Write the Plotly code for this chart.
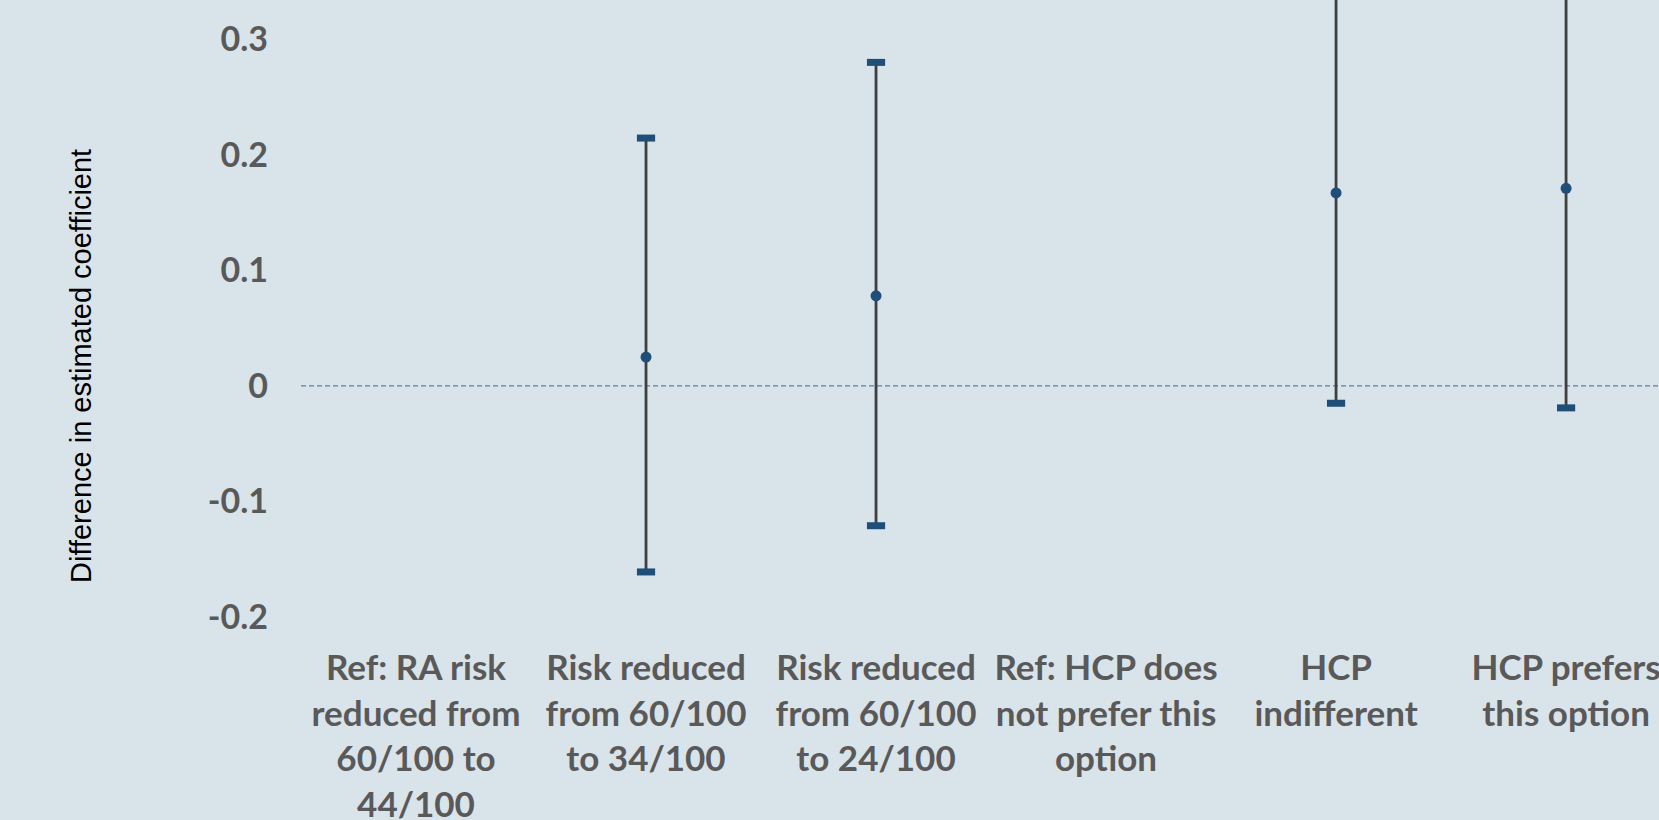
import plotly.graph_objects as go

# ---- data ----
categories = [
    "Ref: RA risk<br>reduced from<br>60/100 to<br>44/100",
    "Risk reduced<br>from 60/100<br>to 34/100",
    "Risk reduced<br>from 60/100<br>to 24/100",
    "Ref: HCP does<br>not prefer this<br>option",
    "HCP<br>indifferent",
    "HCP prefers<br>this option",
]
estimate = [None, 0.025, 0.078, None, 0.167, 0.171]
lower = [None, -0.161, -0.121, None, -0.015, -0.019]
upper = [None, 0.2145, 0.280, None, 0.349, 0.361]
y_ticks = [-0.2, -0.1, 0, 0.1, 0.2, 0.3]
y_ticktext = ["-0.2", "-0.1", "0", "0.1", "0.2", "0.3"]
y_title = "Difference in estimated coefficient"

# ---- styles ----
BG = "#D9E3EA"
BLUE = "#1F4E79"
LINE = "#3F3F3F"
TICK = "#595959"

xs = list(range(len(categories)))
err_plus = [None if e is None else u - e for e, u in zip(estimate, upper)]
err_minus = [None if e is None else e - l for e, l in zip(estimate, lower)]

fig = go.Figure()

# vertical confidence-interval lines
fig.add_trace(go.Scatter(
    x=xs, y=estimate, mode="markers",
    marker=dict(size=1, color="rgba(0,0,0,0)"),
    error_y=dict(type="data", symmetric=False, array=err_plus, arrayminus=err_minus,
                 color=LINE, thickness=2.8, width=0),
    hoverinfo="skip", showlegend=False,
))
# caps
for vals in (lower, upper):
    fig.add_trace(go.Scatter(
        x=xs, y=vals, mode="markers",
        marker=dict(symbol="line-ew", size=13, color=BLUE, line=dict(color=BLUE, width=7)),
        showlegend=False,
    ))
# point estimates
fig.add_trace(go.Scatter(
    x=xs, y=estimate, mode="markers",
    marker=dict(symbol="circle", size=11, color=BLUE),
    showlegend=False,
))

# zero reference line
fig.add_hline(y=0, line=dict(color="#5B80A5", width=1.4, dash="5px,3px"), layer="below")

fig.update_layout(
    width=1659, height=820,
    margin=dict(l=301, r=0, t=0, b=203, autoexpand=False),
    paper_bgcolor=BG, plot_bgcolor=BG,
    showlegend=False,
    xaxis=dict(
        range=[-0.5, 5.404], tickmode="array", tickvals=xs, ticktext=categories,
        tickangle=0, showgrid=False, zeroline=False, showline=False, ticks="",
        tickfont=dict(family="Lato", size=35, color=TICK, weight="bold"),
        ticklabelstandoff=27, ticklabeloverflow="allow", automargin=False,
    ),
    yaxis=dict(
        range=[-0.2, 0.334], tickmode="array", tickvals=y_ticks, ticktext=y_ticktext,
        showgrid=False, zeroline=False, showline=False, ticks="",
        tickfont=dict(family="Lato", size=34, color=TICK, weight="bold"),
        ticklabelstandoff=32, automargin=False,
    ),
    annotations=[
        dict(text=y_title, xref="paper", yref="paper", x=(81 - 301) / 1358, y=1 - 366 / 617,
             xanchor="center", yanchor="middle", textangle=-90, showarrow=False,
             font=dict(family="Liberation Sans, Arial", size=29, color="#000000")),
    ],
)

fig.write_html("out.html", config={"displayModeBar": False},
               post_script="document.body.style.margin='0';document.body.style.overflow='hidden';")
